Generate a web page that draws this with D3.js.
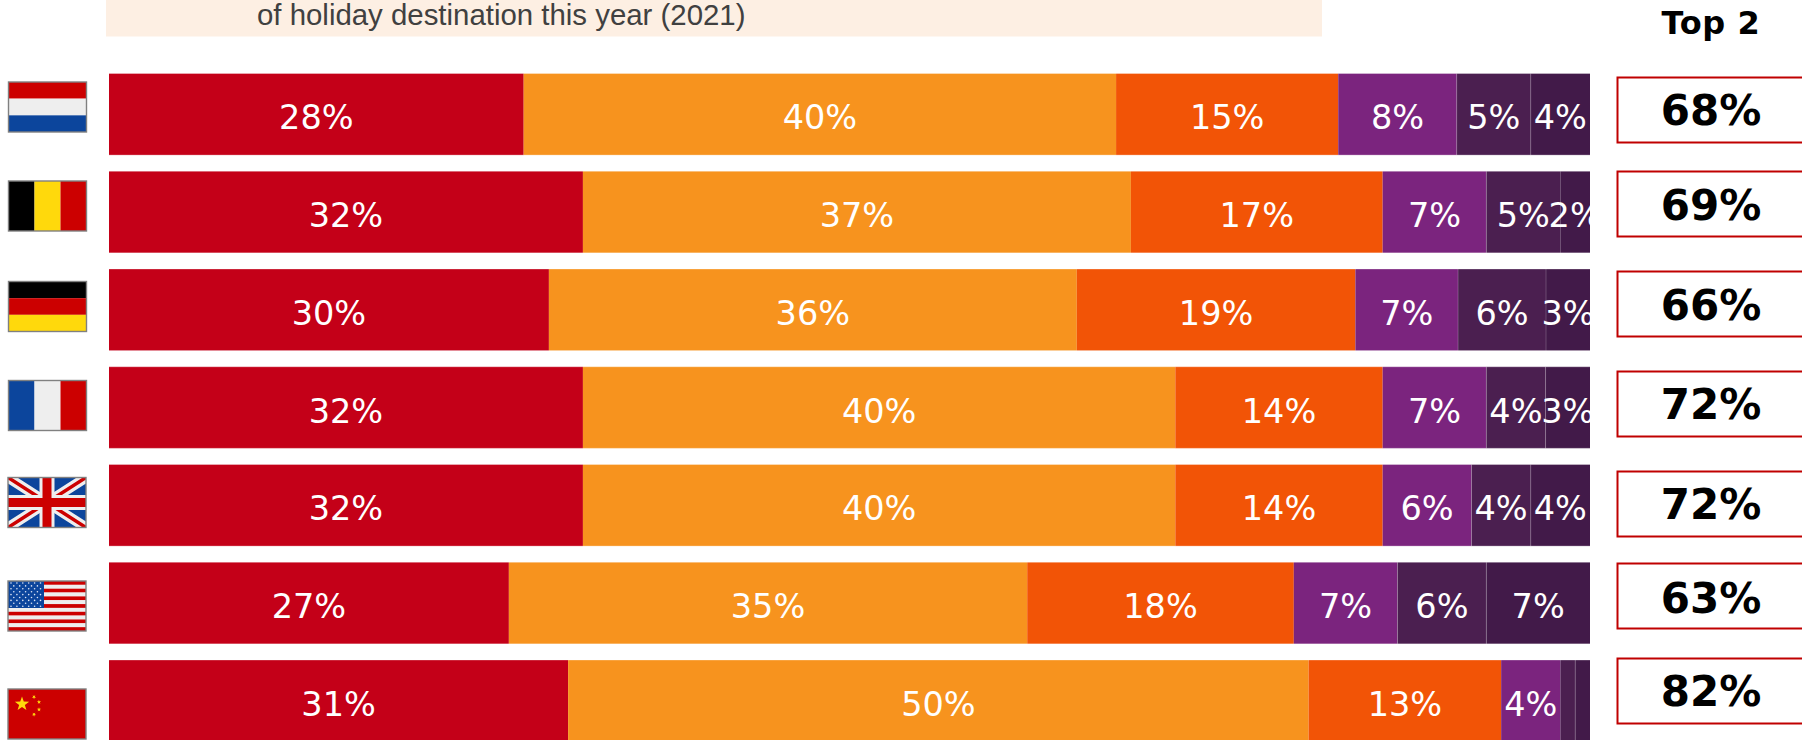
<!DOCTYPE html>
<html>
<head>
<meta charset="utf-8">
<script src="https://cdnjs.cloudflare.com/ajax/libs/d3/7.8.5/d3.min.js"></script>
<style>
html,body{margin:0;padding:0;background:#fff;overflow:hidden}
svg{display:block}
</style>
</head>
<body>
<svg id="chart" width="1802" height="740"></svg>
<script>
// Survey answers per country, in percent, in answer-scale order
const countries = ["nl", "be", "de", "fr", "uk", "us", "cn"];
const answer1 = [28, 32, 30, 32, 32, 27, 31];
const answer2 = [40, 37, 36, 40, 40, 35, 50];
const answer3 = [15, 17, 19, 14, 14, 18, 13];
const answer4 = [8, 7, 7, 7, 6, 7, 4];
const answer5 = [5, 5, 6, 4, 4, 6, 1];
const answer6 = [4, 2, 3, 3, 4, 7, 1];
const top2 = [68, 69, 66, 72, 72, 63, 82];
const answers = [answer1, answer2, answer3, answer4, answer5, answer6];
const answerColors = ["#c40018", "#f7931e", "#f25406", "#7b247e", "#4b1f50", "#421a49"];
const subtitle = "of holiday destination this year (2021)";
const top2Title = "Top 2";
const hiddenBelow = 2;   // shares this small carry no label
const seamless = ["be:5", "cn:4"];   // joins drawn without a hairline

// Page layout
const barLeft = 109, barRight = 1590;
const rowStep = 97.75, barTop = 73.5, barHeight = 81.6;
const flagWidth = 78, flagHeight = 50;
const flagTops = [82, 181, 281.5, 380.5, 477.5, 581, 689];
const flagLefts = [8.5, 8.5, 8.5, 8.5, 8, 8, 8];
const boxTops = [77.5, 171.5, 271.5, 371.5, 471.5, 563.5, 658.5];
const boxTextOffsets = [0, 1, 1, 0, 0, 2, 0];
const boxLeft = 1617.5, boxWidth = 260, boxHeight = 65;

const svg = d3.select("#chart");

svg.append("rect").attr("x", 106).attr("y", 0).attr("width", 1216).attr("height", 36.5).attr("fill", "#fdefe3");
svg.append("text").attr("x", 257).attr("y", 25).text(subtitle)
  .attr("font-family", "Liberation Sans").attr("font-size", 29.4).attr("fill", "#404040");
svg.append("text").attr("x", 1711).attr("y", 34).attr("text-anchor", "middle").text(top2Title)
  .attr("font-family", "DejaVu Sans").attr("font-weight", "bold").attr("font-size", 32)
  .attr("letter-spacing", 0.6).attr("fill", "#000");

const y = d3.scaleBand().domain(countries)
  .range([barTop, barTop + rowStep * countries.length]).paddingInner(0).paddingOuter(0);

svg.append("clipPath").attr("id", "plot-clip").append("rect")
  .attr("x", barLeft).attr("y", 0).attr("width", barRight - barLeft).attr("height", 740);

const rows = svg.append("g").attr("clip-path", "url(#plot-clip)");

countries.forEach((c, i) => {
  const vals = answers.map(a => a[i]);
  const x = d3.scaleLinear().domain([0, d3.sum(vals)]).range([barLeft, barRight]);
  const stack = d3.cumsum(vals);
  const g = rows.append("g").attr("class", "row");
  vals.forEach((v, k) => {
    const x0 = x(k ? stack[k - 1] : 0), x1 = x(stack[k]);
    g.append("rect").attr("x", x0).attr("y", y(c)).attr("width", x1 - x0).attr("height", barHeight)
      .attr("fill", answerColors[k]);
    if (k > 3 && !seamless.includes(c + ":" + k)) {
      g.append("line").attr("x1", x0).attr("x2", x0).attr("y1", y(c)).attr("y2", y(c) + barHeight)
        .attr("stroke", "#fff").attr("stroke-opacity", 0.2);
    }
    if (v >= hiddenBelow) {
      g.append("text").attr("x", (x0 + x1) / 2).attr("y", y(c) + barHeight / 2 + 3)
        .attr("dy", "0.36em").attr("text-anchor", "middle").text(v + "%")
        .attr("font-family", "DejaVu Sans").attr("font-size", 33.5).attr("fill", "#fff");
    }
  });
  // Thin pale edge along the top and bottom of each bar
  [0, barHeight].forEach(d => g.append("line").attr("x1", barLeft).attr("x2", barRight)
    .attr("y1", y(c) + d).attr("y2", y(c) + d).attr("stroke", "#fff").attr("stroke-opacity", 0.3));
});

// Top 2 summary boxes
top2.forEach((v, i) => {
  svg.append("rect").attr("x", boxLeft).attr("y", boxTops[i]).attr("width", boxWidth).attr("height", boxHeight)
    .attr("fill", "#fff").attr("stroke", "#c00000").attr("stroke-width", 2);
  svg.append("text").attr("x", 1711).attr("y", boxTops[i] + boxHeight / 2 + boxTextOffsets[i])
    .attr("dy", "0.36em").attr("text-anchor", "middle").text(v + "%")
    .attr("font-family", "DejaVu Sans").attr("font-weight", "bold").attr("font-size", 42).attr("fill", "#000");
});

// Flags, drawn in a local 78x50 frame
const RED = "#cc0000", WHITE = "#eeeeee", BLUE = "#0c459c", GOLD = "#ffd90c";
function bands(g, cols, horizontal) {
  const s = d3.scaleBand().domain(d3.range(cols.length)).range([0, horizontal ? flagHeight : flagWidth]);
  cols.forEach((col, j) => {
    g.append("rect")
      .attr("x", horizontal ? 0 : s(j)).attr("y", horizontal ? s(j) : 0)
      .attr("width", horizontal ? flagWidth : s.bandwidth())
      .attr("height", horizontal ? s.bandwidth() : flagHeight).attr("fill", col);
  });
}
function star(g, cx, cy, r, rot) {
  const pts = d3.range(10).map(j => {
    const a = rot + j * Math.PI / 5 - Math.PI / 2, rr = j % 2 ? r * 0.4 : r;
    return [cx + rr * Math.cos(a), cy + rr * Math.sin(a)];
  });
  g.append("polygon").attr("points", pts.join(" ")).attr("fill", GOLD);
}
const flagPainters = {
  nl: g => bands(g, [RED, WHITE, BLUE], true),
  be: g => bands(g, ["#000", GOLD, RED], false),
  de: g => bands(g, ["#000", RED, GOLD], true),
  fr: g => bands(g, [BLUE, WHITE, RED], false),
  uk: g => {
    const w = flagWidth, h = flagHeight;
    g.append("rect").attr("width", w).attr("height", h).attr("fill", BLUE);
    g.append("path").attr("d", `M0,0L${w},${h}M${w},0L0,${h}`).attr("stroke", WHITE).attr("stroke-width", 10);
    g.append("path").attr("d", `M0,0L${w / 2},${h / 2}M${w},${h}L${w / 2},${h / 2}M${w},0L${w / 2},${h / 2}M0,${h}L${w / 2},${h / 2}`)
      .attr("stroke", RED).attr("stroke-width", 3.5);
    g.append("path").attr("d", `M${w / 2},0V${h}M0,${h / 2}H${w}`).attr("stroke", WHITE).attr("stroke-width", 15);
    g.append("path").attr("d", `M${w / 2},0V${h}M0,${h / 2}H${w}`).attr("stroke", RED).attr("stroke-width", 9);
  },
  us: g => {
    const stripes = d3.range(13).map(j => j % 2 ? WHITE : RED);
    bands(g, stripes, true);
    g.append("rect").attr("width", 36).attr("height", 27).attr("fill", BLUE);
    d3.range(9).forEach(r => {
      const n = r % 2 ? 5 : 6;
      d3.range(n).forEach(q => g.append("circle")
        .attr("cx", (r % 2 ? 5.8 : 3) + q * 5.9).attr("cy", 2 + r * 2.9).attr("r", 0.8).attr("fill", "#dfe6f5"));
    });
  },
  cn: g => {
    g.append("rect").attr("width", flagWidth).attr("height", flagHeight).attr("fill", RED);
    star(g, 14, 15, 7.5, 0);
    star(g, 26, 8, 2.2, 0.6);
    star(g, 31, 13, 2.2, 1.2);
    star(g, 31, 20.5, 2.2, 0);
    star(g, 26, 25.5, 2.2, 0.6);
  }
};
countries.forEach((c, i) => {
  svg.append("clipPath").attr("id", "flag-" + c).append("rect").attr("width", flagWidth).attr("height", flagHeight);
  const g = svg.append("g").attr("transform", `translate(${flagLefts[i]},${flagTops[i]})`);
  const inner = g.append("g").attr("clip-path", `url(#flag-${c})`);
  flagPainters[c](inner);
  g.append("rect").attr("width", flagWidth).attr("height", flagHeight)
    .attr("fill", "none").attr("stroke", "#808080").attr("stroke-width", 1.4);
});
</script>
</body>
</html>
